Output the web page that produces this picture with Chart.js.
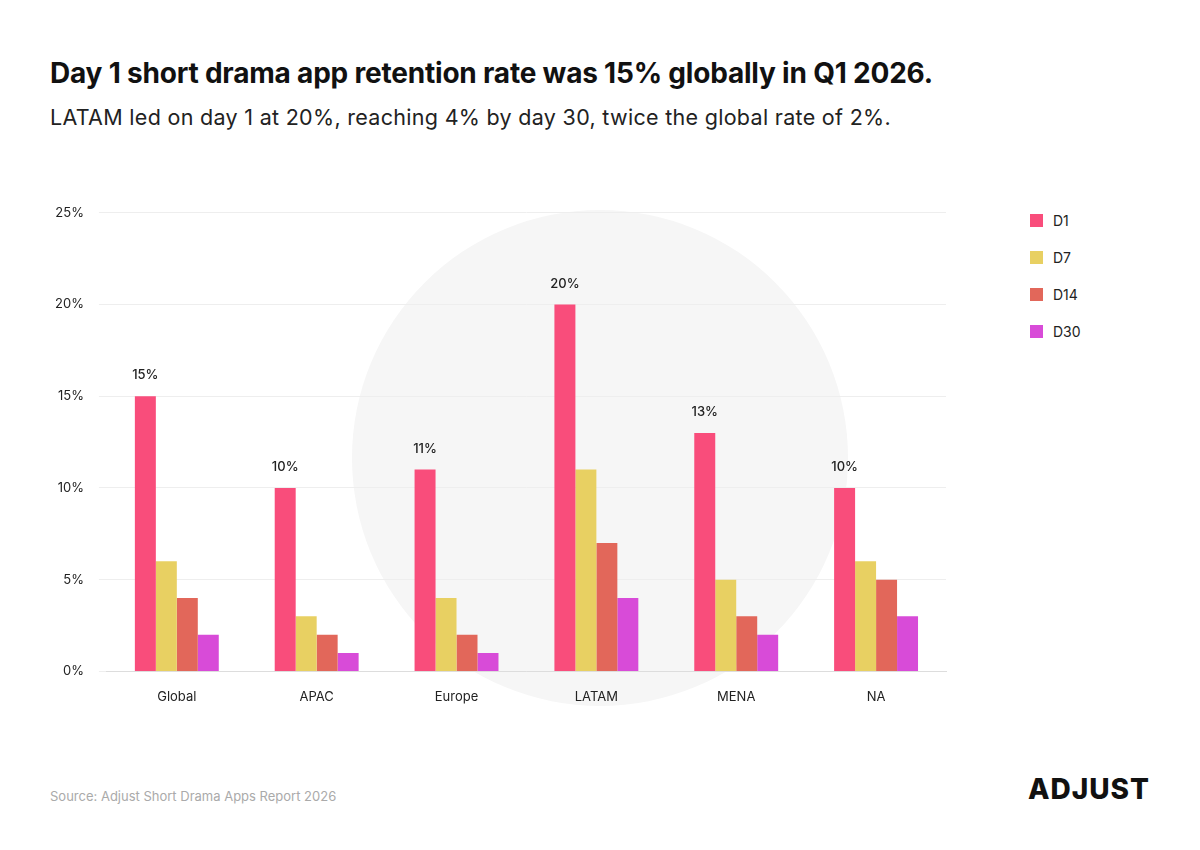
<!DOCTYPE html>
<html>
<head>
<meta charset="utf-8">
<script src="https://cdn.jsdelivr.net/npm/chart.js@4"></script>
<style>
  body { margin:0; background:#fff; font-family: Inter, "Noto Sans", sans-serif; }
  #wrap { position:relative; width:1200px; height:850px; }
  h1 { position:absolute; left:50px; top:56px; margin:0; font-size:28px; font-weight:700; color:#111; letter-spacing:-0.2px; }
  h2 { position:absolute; left:50px; top:104px; margin:0; font-size:21.5px; font-weight:400; color:#222; letter-spacing:0.3px; }
  #chartBox { position:absolute; left:40px; top:190px; width:925px; height:540px; }
  #leyenda { position:absolute; left:1030px; top:210px; }
  .item { display:flex; align-items:center; height:20px; margin-bottom:17px; font-size:14px; color:#222; }
  .cuadro { width:13px; height:13px; margin-right:10px; }
  #src { position:absolute; left:50px; top:788px; font-size:13px; color:#aaa; }
  #logo { position:absolute; right:50px; top:772px; font-size:28px; font-weight:800; letter-spacing:1px; color:#111; }
</style>
</head>
<body>
<div id="wrap">
  <h1>Day 1 short drama app retention rate was 15% globally in Q1 2026.</h1>
  <h2>LATAM led on day 1 at 20%, reaching 4% by day 30, twice the global rate of 2%.</h2>
  <div id="chartBox"><canvas id="grafica" width="925" height="540"></canvas></div>
  <div id="leyenda"></div>
  <div id="src">Source: Adjust Short Drama Apps Report 2026</div>
  <div id="logo">ADJUST</div>
</div>
<script>
const regiones = ['Global', 'APAC', 'Europe', 'LATAM', 'MENA', 'NA'];
const d1 = [15, 10, 11, 20, 13, 10];
const d7 = [6, 3, 4, 11, 5, 6];
const d14 = [4, 2, 2, 7, 3, 5];
const d30 = [2, 1, 1, 4, 2, 3];
const series = ['D1', 'D7', 'D14', 'D30'];
const colores = ['#f94d7b', '#e8d062', '#e2675a', '#d84bd8'];

// marca de agua circular detras de todo (ejes incluidos)
const marcaAgua = {
  id: 'marcaAgua',
  beforeDraw(chart) {
    const ctx = chart.ctx;
    ctx.save();
    ctx.fillStyle = '#f6f6f6';
    ctx.beginPath();
    ctx.arc(600 - 40, 458 - 190, 248, 0, Math.PI * 2);
    ctx.fill();
    ctx.restore();
  }
};

const etiquetasD1 = {
  id: 'etiquetasD1',
  afterDatasetsDraw(chart) {
    const ctx = chart.ctx;
    const meta = chart.getDatasetMeta(0);
    ctx.save();
    ctx.font = '500 13px Inter, sans-serif';
    ctx.fillStyle = '#222';
    ctx.textAlign = 'center';
    meta.data.forEach((bar, i) => {
      ctx.fillText(d1[i] + '%', bar.x, bar.y - 17);
    });
    ctx.restore();
  }
};

const barra = (label, data, color) => ({
  label, data, backgroundColor: color,
  categoryPercentage: 0.6, barPercentage: 1
});

document.getElementById('leyenda').innerHTML = series.map((s, i) =>
  '<div class="item"><div class="cuadro" style="background:' + colores[i] + '"></div>' + s + '</div>').join('');

new Chart(document.getElementById('grafica'), {
  type: 'bar',
  data: {
    labels: regiones,
    datasets: [
      barra('D1', d1, colores[0]),
      barra('D7', d7, colores[1]),
      barra('D14', d14, colores[2]),
      barra('D30', d30, colores[3])
    ]
  },
  options: {
    responsive: false,
    animation: false,
    layout: { padding: { top: 13, bottom: 15, right: 19 } },
    plugins: {
      legend: { display: false },
      tooltip: { enabled: false }
    },
    scales: {
      y: {
        min: 0, max: 25,
        ticks: { stepSize: 5, callback: v => v + '%', color: '#222', padding: 15, font: { size: 13, family: 'Inter' } },
        grid: { color: '#eeeeee' },
        border: { display: false }
      },
      x: {
        ticks: { color: '#222', padding: 10, font: { size: 13, family: 'Inter' }, maxRotation: 0, autoSkip: false },
        grid: { display: false },
        border: { color: '#dddddd' }
      }
    }
  },
  plugins: [marcaAgua, etiquetasD1]
});
</script>
</body>
</html>
